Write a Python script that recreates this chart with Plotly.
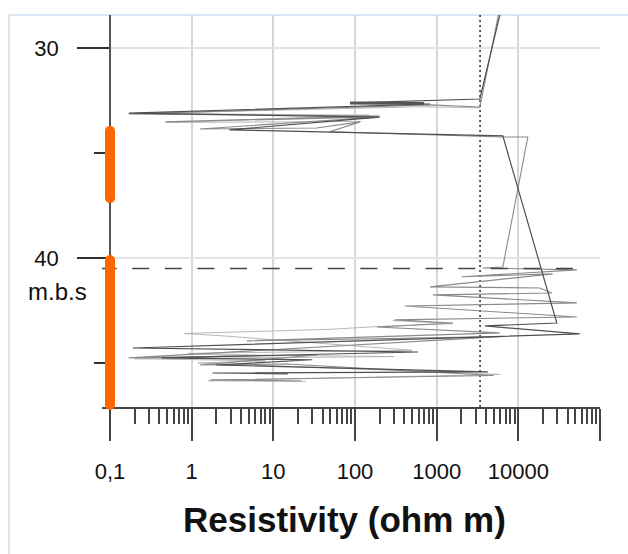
import math
import plotly.graph_objects as go

# ---------------- data ----------------
# dark resistivity profile (ohm m) vs depth (m below surface)
dark_res = [6300, 3380, 87, 830, 0.17, 200, 2.9, 6460, 29600, 3900, 56600,
            0.19, 590, 0.43, 30, 2.0, 4240, 1.8, 15]
dark_depth = [28.0, 32.43, 32.62, 32.67, 33.10, 33.29, 33.90, 34.19, 43.10, 43.24, 43.62,
              44.29, 44.48, 44.76, 44.85, 45.10, 45.43, 45.48, 45.52]

# short heavy segment in the upper dark profile
thick_res = [87, 700]
thick_depth = [32.62, 32.65]

# medium-grey profile
mid_res = [6000, 3380, 830, 0.17, 200, 0.47, 200, 1.26, 34, 115, 49, 6460, 13060, 6460,
           3680, 52000, 2030, 26300, 830, 18300, 25700, 900, 52000, 407, 52000, 308,
           1580, 185, 5900, 4.75, 6000, 0.17, 34, 1.26, 14.7, 5000, 1.7, 22]
mid_depth = [28.0, 32.81, 32.71, 33.14, 33.24, 33.52, 33.29, 33.86, 33.81, 33.52, 33.99, 34.24, 34.24, 40.43,
             40.48, 40.57, 40.90, 40.76, 41.38, 41.43, 41.67, 41.76, 42.14, 42.29, 42.81, 42.95,
             43.10, 43.29, 43.57, 43.95, 43.75, 44.76, 44.62, 45.10, 45.05, 45.60, 45.81, 45.86]

# light-grey profile (two pieces)
light_res = [3380, 600, 0.25, 150, 0.5, 120, None,
             290, 1580, 186, 50, 0.8, 2.2, 500, 0.9, 1.5, 300, 0.2, 8, 1.2, 6000, 1.6, 25]
light_depth = [32.85, 32.80, 33.12, 33.20, 33.55, 33.50, None,
               42.98, 43.13, 43.27, 43.40, 43.60, 43.70, 44.40, 44.55, 44.60, 44.70, 44.80, 44.90,
               45.00, 45.55, 45.85, 45.88]

# reference lines
dotted_res = 3400          # vertical dotted line
dashed_depth = 40.5        # horizontal dashed line
dashed_res = [0.0746, 46400]

# orange depth intervals on the axis
orange_intervals = [(33.95, 37.15), (40.1, 47.0)]

# axis ticks
x_tickvals = [0.1, 1, 10, 100, 1000, 10000, 100000]
x_ticktext = ["0,1", "1", "10", "100", "1000", "10000", ""]
y_tickvals = [30, 40]
y_minor = [35, 45]
depth_range = [47.1, 28.43]
log_range = [-1.098, 5]

FONT = "Liberation Sans"

fig = go.Figure()

fig.add_trace(go.Scatter(x=[dotted_res, dotted_res], y=depth_range, mode="lines",
                         line=dict(color="#333333", width=1.6, dash="2px,3px"),
                         hoverinfo="skip", showlegend=False))

fig.add_trace(go.Scatter(x=light_res, y=light_depth, mode="lines",
                         line=dict(color="#b8b8b8", width=1), connectgaps=False,
                         showlegend=False))
fig.add_trace(go.Scatter(x=mid_res, y=mid_depth, mode="lines",
                         line=dict(color="#8a8a8a", width=1.1), showlegend=False))
fig.add_trace(go.Scatter(x=dark_res, y=dark_depth, mode="lines",
                         line=dict(color="#4f4f4f", width=1.2), showlegend=False))
fig.add_trace(go.Scatter(x=thick_res, y=thick_depth, mode="lines",
                         line=dict(color="#555555", width=3), showlegend=False))

fig.add_trace(go.Scatter(x=dashed_res, y=[dashed_depth, dashed_depth], mode="lines",
                         line=dict(color="#444444", width=1.5, dash="17px,15.6px"),
                         showlegend=False))

for d0, d1 in orange_intervals:
    fig.add_trace(go.Scatter(x=[0.1, 0.1], y=[d0, d1], mode="lines+markers",
                             line=dict(color="#ff6600", width=10),
                             marker=dict(color="#ff6600", size=10, symbol="circle"),
                             cliponaxis=False, showlegend=False))

minor_x = [k * 10 ** n for n in range(-1, 5) for k in range(2, 10)]

fig.update_layout(
    width=628, height=554,
    margin=dict(l=102, r=28, t=15, b=147),
    paper_bgcolor="white", plot_bgcolor="white",
    font=dict(family=FONT, color="#111111", size=20),
    xaxis=dict(type="log", range=log_range, tickmode="array",
               tickvals=x_tickvals, ticktext=x_ticktext,
               ticks="outside", ticklen=32, tickwidth=1.5, tickcolor="#444444",
               showline=True, linecolor="#444444", linewidth=1.5,
               showgrid=True, gridcolor="#d6d6d6", gridwidth=1.5,
               zeroline=False, layer="below traces", ticklabelstandoff=12,
               tickfont=dict(size=22, family=FONT, color="#111111"),
               minor=dict(tickmode="array", tickvals=minor_x, ticks="outside",
                          ticklen=15, tickwidth=1.5, tickcolor="#444444", showgrid=False)),
    yaxis=dict(range=depth_range, tickmode="array", tickvals=y_tickvals,
               ticks="outside", ticklen=32, tickwidth=1.5, tickcolor="#333333",
               showline=True, linecolor="#555555", linewidth=1.5,
               anchor="free",
               position=(math.log10(0.1) - log_range[0]) / (log_range[1] - log_range[0]),
               showgrid=True, gridcolor="#e4e4e4", gridwidth=1.5,
               zeroline=False, layer="below traces", ticklabelstandoff=14,
               tickfont=dict(size=22, family=FONT, color="#111111"),
               minor=dict(tickmode="array", tickvals=y_minor, ticks="outside",
                          ticklen=15, tickwidth=1.5, tickcolor="#333333", showgrid=False)),
    shapes=[dict(type="rect", xref="paper", yref="paper",
                 x0=-0.1867, x1=1.2, y0=-0.6, y1=1.0,
                 line=dict(color="#cfe0f1", width=1.5), fillcolor="rgba(0,0,0,0)",
                 layer="below")],
    annotations=[
        dict(text="m.b.s", xref="paper", yref="paper", x=-0.0884, y=0.2934,
             showarrow=False, xanchor="center", yanchor="middle",
             font=dict(size=24, family=FONT, color="#111111")),
        dict(text="Resistivity (ohm m)", xref="paper", yref="paper", x=0.487, y=-0.288,
             showarrow=False, xanchor="center", yanchor="middle",
             font=dict(size=35, family=FONT, color="#111111", weight="bold")),
    ],
)

fig.write_html("out.html")
